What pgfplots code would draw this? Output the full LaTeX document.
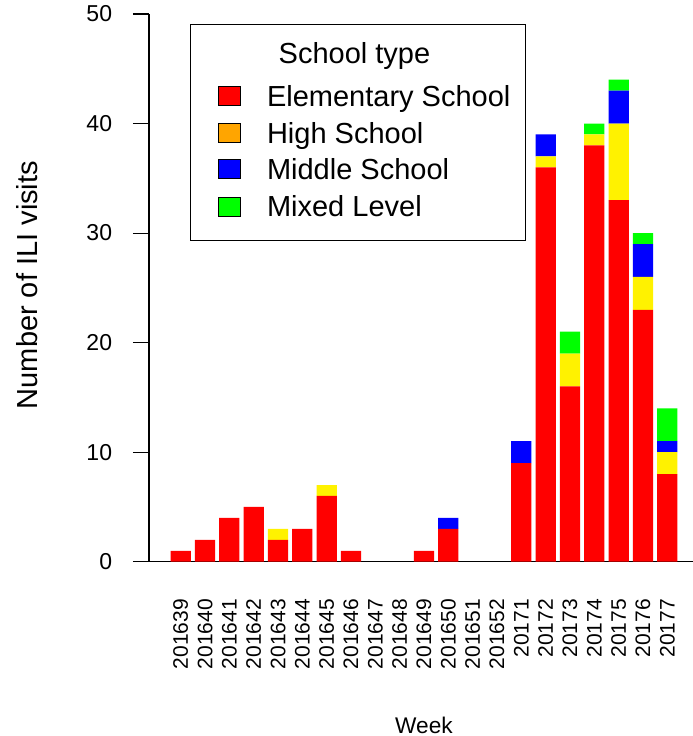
\documentclass[border=0pt]{standalone}
\usepackage{fontspec}
\setmainfont{Liberation Sans}
\usepackage{pgfplots}
\pgfplotsset{compat=1.18}
\usepackage{pgfplotstable}
\definecolor{rorange}{HTML}{FFA500}
\pgfplotstableread{
x red yel blu grn
0 1 0 0 0
1 2 0 0 0
2 4 0 0 0
3 5 0 0 0
4 2 1 0 0
5 3 0 0 0
6 6 1 0 0
7 1 0 0 0
8 0 0 0 0
9 0 0 0 0
10 1 0 0 0
11 3 0 1 0
12 0 0 0 0
13 0 0 0 0
14 9 0 2 0
15 36 1 2 0
16 16 3 0 2
17 38 1 0 1
18 33 7 3 1
19 23 3 3 1
20 8 2 1 3
}\data
\newcommand{\st}[2]{\rule[-#2]{0pt}{\dimexpr#1+#2\relax}}
\begin{document}
\begin{tikzpicture}
\useasboundingbox (0,0) rectangle (519.75pt,-552pt);
\begin{axis}[
  at={(111.75pt,-421.275pt)}, anchor=south west,
  scale only axis, width=408pt, height=410.8pt,
  xmin=-1.303, xmax=21.056, ymin=0, ymax=50,
  ybar stacked, bar width=15.2pt,
  axis lines*=left,
  axis line style={-, line width=0.8pt, black},
  x axis line style={draw=none},
  ytick={0,10,20,30,40,50},
  tick align=outside,
  major tick length=12pt,
  ytick style={line width=0.8pt, black},
  xtick={0,...,20},
  xticklabels={201639,201640,201641,201642,201643,201644,201645,201646,201647,201648,201649,201650,201651,201652,20171,20172,20173,20174,20175,20176,20177},
  xtick style={draw=none},
  xticklabel style={yshift=-15.75pt, rotate=90, anchor=east, inner sep=0pt, font=\fontsize{15.75}{18}\selectfont},
  yticklabel style={xshift=-15.5pt, anchor=east, inner sep=0pt, font=\fontsize{17.25}{20}\selectfont},
  /pgf/number format/assume math mode=true,
  clip=false,
  ylabel={Number of ILI visits},
  xlabel={Week},
  every axis y label/.style={at={(axis description cs:-0.2243,0.505)}, rotate=90, anchor=center, font=\fontsize{21.75}{26}\selectfont},
  every axis x label/.style={at={(axis description cs:0.5055,-0.3128)}, anchor=base, font=\fontsize{17}{20}\selectfont},
  legend image code/.code={\path (-9.5pt,0pt); \draw[#1] (0pt,-7pt) rectangle (16pt,7.25pt);},
  legend cell align=left,
  legend style={at={(axis description cs:0.0754,0.9817)}, anchor=north west,
    draw=black, line width=0.8pt, inner xsep=11.25pt, inner ysep=10.2pt,
    row sep=0pt,
    nodes={inner sep=0pt, text depth=, text height=},
    font=\fontsize{21.75}{26}\selectfont,
    /tikz/every odd column/.append style={column sep=20pt}},
]
\addplot[fill=red, draw=none, forget plot] table[x=x, y=red]{\data};
\addplot[fill=yellow, draw=none, forget plot] table[x=x, y=yel]{\data};
\addplot[fill=blue, draw=none, forget plot] table[x=x, y=blu]{\data};
\addplot[fill=green, draw=none, forget plot] table[x=x, y=grn]{\data};
\addlegendimage{empty legend}
\addlegendentry{\st{18.7pt}{11.1pt}\hspace{8.8pt}School type}
\addlegendimage{fill=red, draw=black, line width=0.6pt}
\addlegendentry{\st{21.5pt}{5.9pt}Elementary School}
\addlegendimage{fill=rorange, draw=black, line width=0.6pt}
\addlegendentry{\st{21.5pt}{5.9pt}High School}
\addlegendimage{fill=blue, draw=black, line width=0.6pt}
\addlegendentry{\st{21.5pt}{5.9pt}Middle School}
\addlegendimage{fill=green, draw=black, line width=0.6pt}
\addlegendentry{\st{21.5pt}{8.4pt}Mixed Level}
\draw[line width=0.8pt, black] (axis cs:-1.96,0) -- (axis cs:21.06,0);
\end{axis}
\end{tikzpicture}
\end{document}
